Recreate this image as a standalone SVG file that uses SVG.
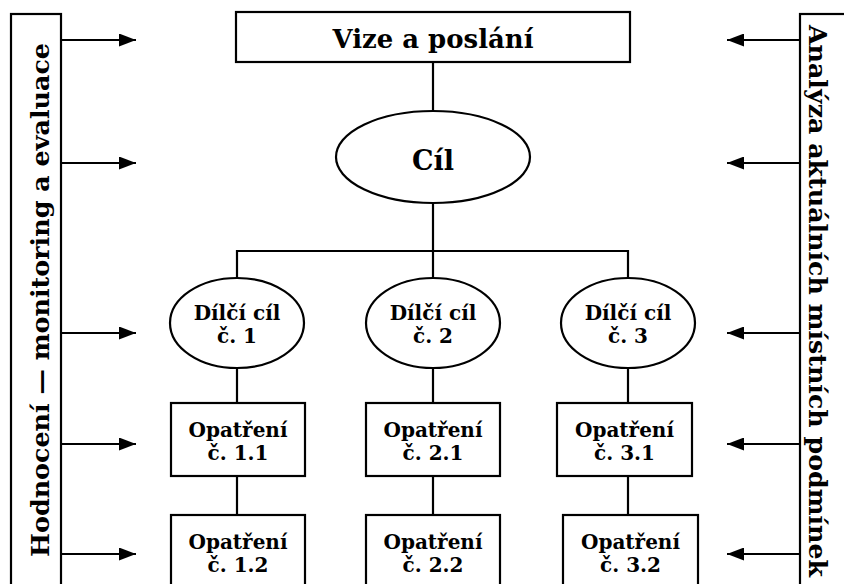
<svg xmlns="http://www.w3.org/2000/svg" width="844" height="584" viewBox="0 0 844 584">
<defs>
<style>
.shape{fill:#fff;stroke:#000;stroke-width:2.2}
.line{fill:none;stroke:#000;stroke-width:2.2}
.t{font-family:"DejaVu Serif","Liberation Serif",serif;font-weight:bold;fill:#000;text-anchor:middle}
.big{font-size:26px}
.mid{font-size:20px}
.side{font-size:25px}
</style>
<marker id="ah" viewBox="0 0 17 13" refX="17" refY="6.5" markerWidth="17" markerHeight="13" markerUnits="userSpaceOnUse" orient="auto">
<path d="M0,0 L17,6.5 L0,13 Z" fill="#000"/>
</marker>
</defs>
<rect width="844" height="584" fill="#fff"/>

<g id="connectors">
<path class="line" d="M433,62 V111"/>
<path class="line" d="M433,203 V278"/>
<path class="line" d="M237,278 V251 H628 V278"/>
<path class="line" d="M237,368 V403 M433,368 V403 M628,368 V403"/>
<path class="line" d="M237,476 V515 M433,476 V515 M628,476 V515"/>
<g marker-end="url(#ah)">
<path class="line" d="M61,40 H136"/>
<path class="line" d="M61,163 H136"/>
<path class="line" d="M61,333 H136"/>
<path class="line" d="M61,444 H136"/>
<path class="line" d="M61,554 H136"/>
<path class="line" d="M800,40 H727"/>
<path class="line" d="M800,163 H727"/>
<path class="line" d="M800,333 H727"/>
<path class="line" d="M800,444 H727"/>
<path class="line" d="M800,554 H727"/>
</g>
</g>

<g id="hodnoceni">
<rect class="shape" x="11" y="14" width="50" height="600"/>
<text class="t side" transform="translate(49,300) rotate(-90)" textLength="514" lengthAdjust="spacingAndGlyphs">Hodnocení — monitoring a evaluace</text>
</g>
<g id="analyza">
<rect class="shape" x="800" y="14" width="60" height="600"/>
<text class="t side" transform="translate(809,301) rotate(90)" textLength="552" lengthAdjust="spacingAndGlyphs">Analýza aktuálních místních podmínek</text>
</g>

<g id="vize">
<rect class="shape" x="236" y="12" width="394" height="50"/>
<text class="t big" x="433" y="48" textLength="201" lengthAdjust="spacingAndGlyphs">Vize a poslání</text>
</g>
<g id="cil">
<ellipse class="shape" cx="433" cy="157" rx="97" ry="46"/>
<text class="t" style="font-size:27px" x="433" y="170">Cíl</text>
</g>

<g id="dilci1">
<ellipse class="shape" cx="237" cy="323" rx="67" ry="45"/>
<text class="t mid" x="237" y="320">Dílčí cíl</text>
<text class="t mid" x="237" y="343">č. 1</text>
</g>
<g id="dilci2">
<ellipse class="shape" cx="433" cy="323" rx="67" ry="45"/>
<text class="t mid" x="433" y="320">Dílčí cíl</text>
<text class="t mid" x="433" y="343">č. 2</text>
</g>
<g id="dilci3">
<ellipse class="shape" cx="628" cy="323" rx="67" ry="45"/>
<text class="t mid" x="628" y="320">Dílčí cíl</text>
<text class="t mid" x="628" y="343">č. 3</text>
</g>

<g id="opatreni11">
<rect class="shape" x="171" y="403" width="134" height="73"/>
<text class="t mid" x="238" y="437">Opatření</text>
<text class="t mid" x="238" y="460">č. 1.1</text>
</g>
<g id="opatreni21">
<rect class="shape" x="366" y="403" width="134" height="73"/>
<text class="t mid" x="433" y="437">Opatření</text>
<text class="t mid" x="433" y="460">č. 2.1</text>
</g>
<g id="opatreni31">
<rect class="shape" x="557" y="403" width="135" height="73"/>
<text class="t mid" x="624.5" y="437">Opatření</text>
<text class="t mid" x="624.5" y="460">č. 3.1</text>
</g>
<g id="opatreni12">
<rect class="shape" x="171" y="515" width="134" height="90"/>
<text class="t mid" x="238" y="549">Opatření</text>
<text class="t mid" x="238" y="572">č. 1.2</text>
</g>
<g id="opatreni22">
<rect class="shape" x="366" y="515" width="134" height="90"/>
<text class="t mid" x="433" y="549">Opatření</text>
<text class="t mid" x="433" y="572">č. 2.2</text>
</g>
<g id="opatreni32">
<rect class="shape" x="563" y="515" width="135" height="90"/>
<text class="t mid" x="630.5" y="549">Opatření</text>
<text class="t mid" x="630.5" y="572">č. 3.2</text>
</g>
</svg>
